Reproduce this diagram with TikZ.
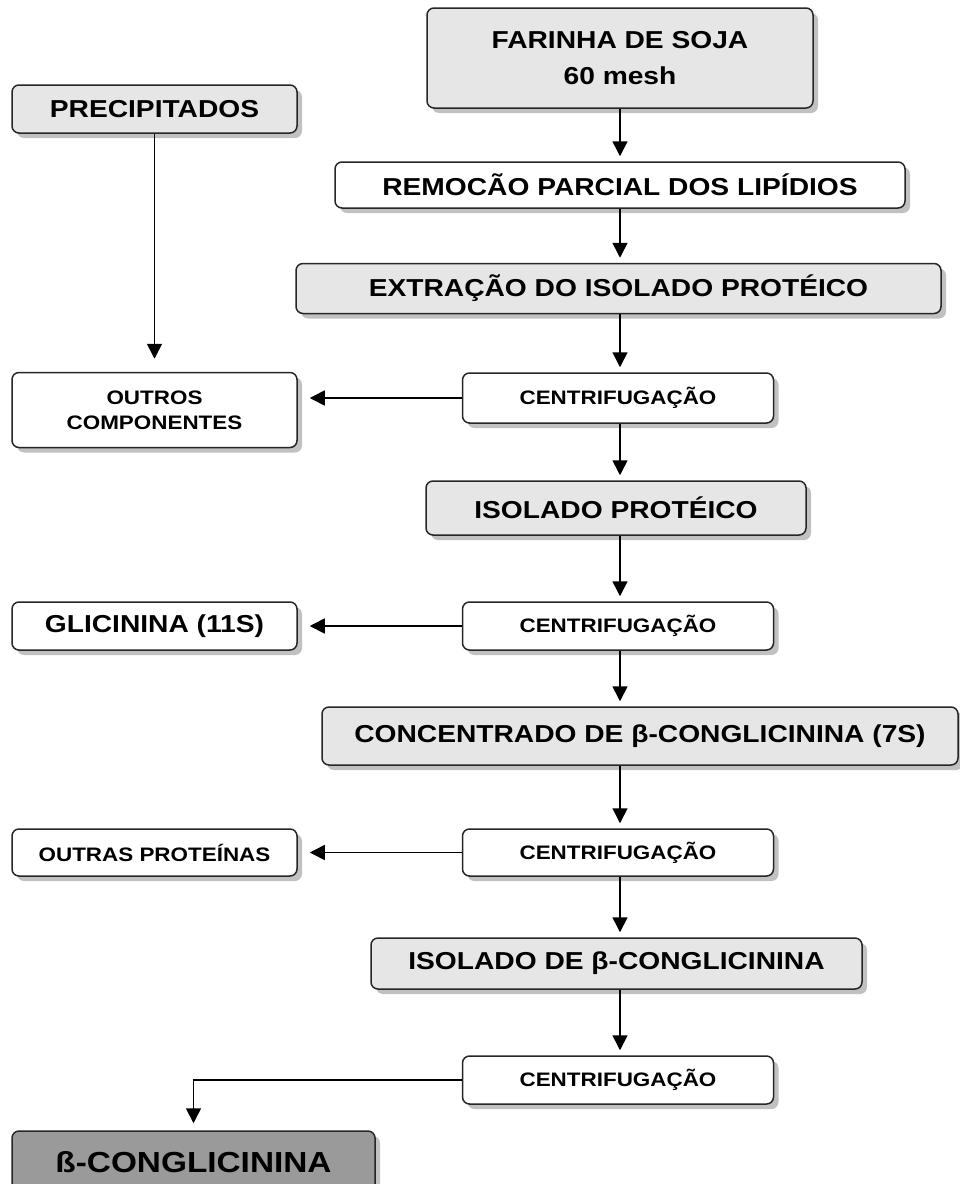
\documentclass[tikz,border=0pt]{standalone}
\usepackage{fontspec}
\setmainfont{Liberation Sans}[FakeStretch=1.15]
\usetikzlibrary{shadows,arrows.meta}
\definecolor{boxgray}{HTML}{E6E6E6}
\definecolor{darkbox}{HTML}{9A9A9A}
\tikzset{
  base/.style={draw=black!85, line width=1.5pt, rounded corners=7pt, inner sep=0pt, align=center,
    drop shadow={shadow xshift=5pt, shadow yshift=-5pt, fill=black!30, opacity=0.8},
    font=\bfseries\fontsize{24.5}{30}\selectfont},
  graybox/.style={base, fill=boxgray},
  whitebox/.style={base, fill=white},
  smallbox/.style={base, fill=white, font=\bfseries\fontsize{19.5}{25}\selectfont},
  finalbox/.style={base, fill=darkbox, font=\bfseries\fontsize{29}{32}\selectfont},
  arr/.style={line width=1.6pt, -{Triangle[width=15pt,length=15pt]}, shorten >=5pt},
}
\begin{document}
\begin{tikzpicture}[x=1pt,y=-1pt]
\useasboundingbox (0,0) rectangle (960,1184);
\coordinate (col) at (620,0);

\node[graybox, minimum width=386pt, minimum height=100pt, font=\bfseries\fontsize{24.5}{36}\selectfont] (farinha) at (620,58) {FARINHA DE SOJA\\60 mesh};
\node[graybox, minimum width=285pt, minimum height=48pt] (precip) at (154.5,109) {PRECIPITADOS};
\node[whitebox, minimum width=570pt, minimum height=46pt] (remocao) at (620,185) {REMOCÃO PARCIAL DOS LIPÍDIOS};
\node[graybox, minimum width=645pt, minimum height=50pt] (extracao) at (618.5,288.5) {EXTRAÇÃO DO ISOLADO PROTÉICO};
\node[smallbox, minimum width=285pt, minimum height=75pt] (outros) at (154.5,410) {OUTROS\\COMPONENTES};
\node[smallbox, minimum width=311pt, minimum height=50pt] (c1) at (618,398) {CENTRIFUGAÇÃO};
\node[graybox, minimum width=380pt, minimum height=54pt] (isolado) at (616,508) {ISOLADO PROTÉICO};
\node[whitebox, minimum width=285pt, minimum height=48pt] (glicinina) at (154.5,626) {GLICININA (11S)};
\node[smallbox, minimum width=311pt, minimum height=48pt] (c2) at (618,626) {CENTRIFUGAÇÃO};
\node[graybox, minimum width=636pt, minimum height=58pt] (concentrado) at (640,736) {CONCENTRADO DE β-CONGLICININA (7S)};
\node[smallbox, minimum width=285pt, minimum height=47pt] (outras) at (154.5,852.5) {OUTRAS PROTEÍNAS};
\node[smallbox, minimum width=311pt, minimum height=47pt] (c3) at (618,852.5) {CENTRIFUGAÇÃO};
\node[graybox, minimum width=491pt, minimum height=51pt] (isobeta) at (616.5,963.5) {ISOLADO DE β-CONGLICININA};
\node[smallbox, minimum width=311pt, minimum height=48pt] (c4) at (618,1080) {CENTRIFUGAÇÃO};
\node[finalbox, minimum width=363pt, minimum height=62pt] (beta) at (193.5,1162) {ß-CONGLICININA};

\draw[arr] (farinha.south -| col) -- (remocao.north -| col);
\draw[arr] (remocao.south -| col) -- (extracao.north -| col);
\draw[arr] (extracao.south -| col) -- (c1.north -| col);
\draw[arr] (c1.south -| col) -- (isolado.north -| col);
\draw[arr] (isolado.south -| col) -- (c2.north -| col);
\draw[arr] (c2.south -| col) -- (concentrado.north -| col);
\draw[arr] (concentrado.south -| col) -- (c3.north -| col);
\draw[arr] (c3.south -| col) -- (isobeta.north -| col);
\draw[arr] (isobeta.south -| col) -- (c4.north -| col);
\draw[arr, shorten >=13pt] (precip.south) -- (outros.north);
\draw[arr, shorten >=12pt] (c1.west) -- (c1.west -| outros.east);
\draw[arr, shorten >=12pt] (c2.west) -- (c2.west -| glicinina.east);
\draw[arr, shorten >=12pt] (c3.west) -- (c3.west -| outras.east);
\draw[arr, shorten >=7pt] (c4.west) -| (beta.north);
\end{tikzpicture}
\end{document}
